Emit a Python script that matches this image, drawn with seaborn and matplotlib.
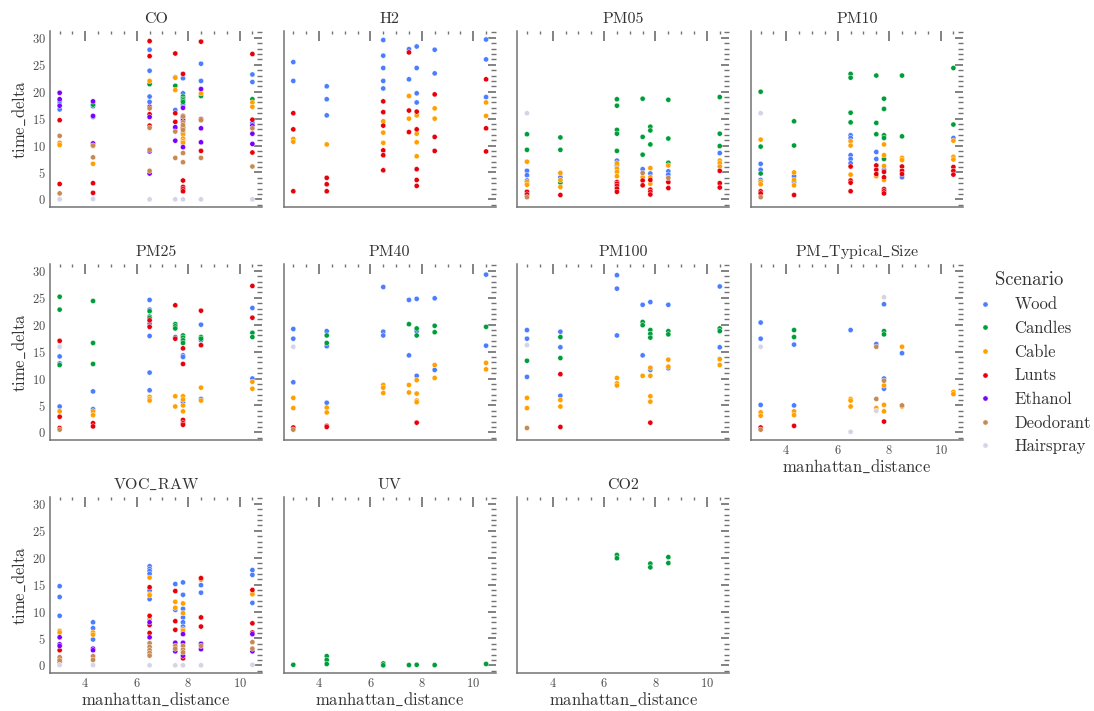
import matplotlib
matplotlib.use("Agg")
import matplotlib.pyplot as plt
import seaborn as sns
import pandas as pd

# time_delta per (manhattan_distance, time_delta) point, grouped by sensor and scenario
CO = {
    "Wood": [(3, 18.0), (3, 16.7), (3, 18.3), (4.3, 17.3), (4.3, 15.3), (6.5, 27.8), (6.5, 23.9), (6.5, 21.6),
             (6.5, 19.1), (6.5, 18.1), (7.5, 22.7), (7.5, 16.6), (7.5, 13.2), (7.8, 22.5), (7.8, 19.7), (7.8, 17.6),
             (7.8, 12.4), (8.5, 25.2), (8.5, 22.0), (10.5, 23.2), (10.5, 21.8), (10.5, 14.2)],
    "Candles": [(4.3, 17.6), (6.5, 21.4), (7.5, 21.1), (7.8, 19.1), (7.8, 18.7), (7.8, 18.4), (7.8, 18.1),
                (8.5, 19.2), (10.5, 18.6)],
    "Cable": [(3, 10.5), (3, 10.1), (4.3, 9.9), (4.3, 6.6), (6.5, 22.0), (7.5, 22.6), (7.5, 20.3), (7.8, 12.1),
              (7.8, 11.3), (7.8, 10.8), (7.8, 10.5), (8.5, 19.7), (10.5, 18.0), (10.5, 17.2)],
    "Lunts": [(3, 14.7), (3, 2.85), (4.3, 3.0), (4.3, 1.2), (6.5, 29.4), (6.5, 26.6), (6.5, 15.8), (6.5, 13.7),
              (7.5, 27.1), (7.5, 16.0), (7.5, 14.4), (7.8, 23.3), (7.8, 15.5), (7.8, 13.3), (7.8, 3.5), (7.8, 2.3),
              (7.8, 1.9), (7.8, 1.5), (8.5, 29.3), (8.5, 14.9), (8.5, 9.0), (10.5, 27.0), (10.5, 14.8), (10.5, 8.7)],
    "Ethanol": [(3, 19.8), (3, 18.6), (3, 17.4), (4.3, 18.2), (4.3, 15.5), (4.3, 10.4), (6.5, 17.2), (6.5, 15.3),
                (6.5, 8.9), (6.5, 4.8), (7.5, 13.4), (7.5, 10.9), (7.8, 17.0), (7.8, 15.2), (7.8, 14.7), (7.8, 9.7),
                (8.5, 20.5), (8.5, 13.2), (8.5, 10.6), (10.5, 13.7), (10.5, 12.2), (10.5, 10.3)],
    "Deodorant": [(3, 11.8), (3, 1.1), (4.3, 10.0), (4.3, 7.8), (6.5, 16.9), (6.5, 13.3), (6.5, 9.2), (6.5, 5.3),
                  (7.5, 12.6), (7.5, 7.7), (7.8, 15.4), (7.8, 14.3), (7.8, 13.8), (7.8, 12.9), (7.8, 8.6),
                  (7.8, 6.9), (8.5, 14.7), (8.5, 7.7), (10.5, 13.2), (10.5, 6.1)],
    "Hairspray": [(3, 0), (4.3, 0.05), (6.5, 0), (7.5, 0), (7.8, 0), (8.5, 0), (10.5, 0)],
}

H2 = {
    "Wood": [(3, 25.5), (3, 22.0), (4.3, 21.0), (4.3, 18.6), (4.3, 15.6), (6.5, 29.6), (6.5, 26.7), (6.5, 24.4),
             (6.5, 22.0), (6.5, 20.6), (7.5, 27.9), (7.5, 22.3), (7.8, 28.4), (7.8, 24.4), (7.8, 19.7), (7.8, 18.0),
             (8.5, 27.8), (8.5, 23.4), (10.5, 29.7), (10.5, 26.0), (10.5, 19.0)],
    "Cable": [(3, 11.2), (3, 10.7), (4.3, 10.2), (6.5, 14.5), (6.5, 12.4), (6.5, 10.5), (7.5, 19.2), (7.5, 15.0),
              (7.8, 15.6), (7.8, 12.2), (7.8, 10.6), (7.8, 8.0), (8.5, 16.9), (8.5, 15.0), (10.5, 18.0),
              (10.5, 15.5)],
    "Lunts": [(3, 16.0), (3, 13.0), (3, 1.5), (4.3, 4.0), (4.3, 2.8), (4.3, 1.5), (6.5, 18.2), (6.5, 16.2),
              (6.5, 13.7), (6.5, 9.1), (6.5, 8.2), (6.5, 5.4), (7.5, 27.3), (7.5, 16.5), (7.5, 12.5), (7.8, 16.3),
              (7.8, 13.0), (7.8, 5.6), (7.8, 3.6), (7.8, 2.5), (8.5, 19.5), (8.5, 11.6), (8.5, 9.0), (10.5, 22.3),
              (10.5, 13.2), (10.5, 8.9)],
}

PM05 = {
    "Wood": [(3, 5.3), (3, 4.5), (3, 3.5), (4.3, 4.1), (6.5, 7.2), (6.5, 6.3), (7.5, 5.6), (7.8, 4.8), (8.5, 5.2),
             (8.5, 4.6), (10.5, 8.6)],
    "Candles": [(3, 12.1), (3, 9.2), (4.3, 11.5), (4.3, 9.2), (4.3, 3.1), (6.5, 18.6), (6.5, 17.4), (6.5, 12.9),
                (6.5, 12.2), (6.5, 9.0), (7.5, 18.7), (7.5, 11.6), (7.5, 8.3), (7.8, 13.5), (7.8, 12.8),
                (7.8, 10.2), (8.5, 18.5), (8.5, 11.3), (8.5, 6.8), (10.5, 19.0), (10.5, 12.2), (10.5, 9.9)],
    "Cable": [(3, 7.0), (3, 3.2), (3, 2.7), (4.3, 4.9), (4.3, 3.6), (4.3, 2.3), (6.5, 6.7), (6.5, 5.7), (6.5, 5.1),
              (6.5, 4.3), (7.5, 4.1), (7.8, 5.8), (7.8, 4.1), (7.8, 2.9), (8.5, 6.3), (10.5, 7.2), (10.5, 6.7),
              (10.5, 6.1)],
    "Lunts": [(3, 1.4), (3, 0.9), (4.3, 0.8), (6.5, 3.2), (6.5, 2.9), (6.5, 2.5), (6.5, 2.0), (6.5, 1.4),
              (7.5, 3.5), (7.5, 2.6), (7.8, 3.6), (7.8, 1.8), (7.8, 1.4), (7.8, 0.9), (8.5, 3.2), (8.5, 2.1),
              (10.5, 5.3), (10.5, 3.0), (10.5, 2.2)],
    "Deodorant": [(3, 0.4), (7.5, 4.9), (8.5, 4.0)],
    "Hairspray": [(3, 16.0)],
}

PM10 = {
    "Wood": [(3, 6.6), (3, 5.5), (3, 3.6), (4.3, 4.3), (4.3, 3.2), (6.5, 11.9), (6.5, 11.4), (6.5, 8.2),
             (6.5, 7.5), (6.5, 6.7), (7.5, 8.8), (7.5, 7.5), (7.8, 5.5), (8.5, 4.1), (10.5, 11.4)],
    "Candles": [(3, 20.0), (3, 9.8), (3, 4.8), (4.3, 14.5), (4.3, 10.0), (6.5, 23.3), (6.5, 22.6), (6.5, 16.1),
                (6.5, 14.3), (7.5, 23.0), (7.5, 14.2), (7.5, 12.1), (7.8, 18.7), (7.8, 16.8), (7.8, 11.9),
                (7.8, 11.4), (7.8, 7.5), (8.5, 23.0), (8.5, 11.7), (10.5, 24.4), (10.5, 13.9)],
    "Cable": [(3, 11.1), (3, 3.3), (3, 2.8), (4.3, 5.0), (4.3, 3.6), (4.3, 2.6), (6.5, 10.8), (6.5, 10.0),
              (6.5, 4.6), (7.5, 4.3), (7.8, 10.2), (7.8, 8.2), (7.8, 6.2), (7.8, 3.6), (8.5, 7.7), (8.5, 7.3),
              (10.5, 10.9), (10.5, 7.9), (10.5, 7.4)],
    "Lunts": [(3, 1.5), (3, 1.1), (4.3, 0.8), (6.5, 6.1), (6.5, 3.5), (6.5, 3.1), (6.5, 1.5), (7.5, 6.3),
              (7.5, 5.5), (7.5, 4.7), (7.8, 5.1), (7.8, 4.1), (7.8, 1.9), (7.8, 1.5), (7.8, 1.1), (8.5, 6.1),
              (8.5, 5.3), (8.5, 4.7), (10.5, 6.0), (10.5, 5.3), (10.5, 4.6)],
    "Deodorant": [(3, 0.4)],
    "Hairspray": [(3, 16.0)],
}

PM25 = {
    "Wood": [(3, 14.1), (3, 12.8), (3, 4.8), (4.3, 7.6), (4.3, 4.3), (6.5, 24.6), (6.5, 22.8), (6.5, 20.2),
             (6.5, 17.9), (6.5, 11.1), (6.5, 7.8), (7.5, 17.7), (7.8, 14.3), (7.8, 14.0), (7.8, 5.6), (8.5, 20.0),
             (8.5, 17.1), (8.5, 6.2), (10.5, 23.1), (10.5, 10.0)],
    "Candles": [(3, 25.2), (3, 22.8), (3, 12.5), (4.3, 24.4), (4.3, 16.6), (4.3, 12.7), (6.5, 22.5), (6.5, 21.5),
                (6.5, 21.2), (7.5, 20.1), (7.5, 19.7), (7.5, 19.3), (7.8, 18.0), (7.8, 17.6), (7.8, 17.1),
                (7.8, 16.6), (8.5, 17.7), (8.5, 17.4), (10.5, 18.5), (10.5, 17.7)],
    "Cable": [(3, 3.9), (4.3, 3.9), (4.3, 3.2), (6.5, 6.6), (6.5, 6.2), (6.5, 5.9), (7.5, 6.7), (7.5, 4.8),
              (7.8, 6.7), (7.8, 6.1), (7.8, 5.0), (7.8, 3.9), (8.5, 8.3), (8.5, 5.9), (10.5, 9.4), (10.5, 8.1)],
    "Lunts": [(3, 17.0), (3, 2.9), (3, 0.8), (4.3, 1.7), (4.3, 1.1), (6.5, 20.8), (6.5, 19.6), (7.5, 23.6),
              (7.5, 17.4), (7.8, 15.6), (7.8, 12.7), (7.8, 2.3), (7.8, 1.7), (7.8, 1.4), (8.5, 22.6), (8.5, 16.2),
              (10.5, 27.2), (10.5, 21.3)],
    "Deodorant": [(3, 0.5)],
    "Hairspray": [(3, 15.9)],
}

PM40 = {
    "Wood": [(3, 19.2), (3, 17.4), (3, 9.3), (4.3, 18.8), (4.3, 16.0), (4.3, 5.5), (6.5, 27.0), (6.5, 18.7),
             (6.5, 18.0), (7.5, 24.6), (7.5, 14.3), (7.8, 24.8), (7.8, 18.8), (7.8, 10.5), (8.5, 24.9),
             (8.5, 11.6), (10.5, 29.3), (10.5, 16.1)],
    "Candles": [(4.3, 18.0), (4.3, 16.6), (7.5, 20.1), (7.8, 19.3), (7.8, 18.0), (8.5, 19.8), (8.5, 18.6),
                (10.5, 19.6)],
    "Cable": [(3, 6.4), (3, 4.5), (4.3, 4.6), (4.3, 3.7), (6.5, 8.8), (6.5, 8.3), (6.5, 7.3), (7.5, 8.8),
              (7.5, 7.4), (7.8, 9.7), (7.8, 7.2), (7.8, 5.9), (7.8, 5.6), (8.5, 12.5), (8.5, 10.1), (10.5, 12.9),
              (10.5, 11.7)],
    "Lunts": [(3, 0.9), (4.3, 1.2), (4.3, 1.0), (7.8, 1.8)],
    "Deodorant": [(3, 0.5)],
    "Hairspray": [(3, 15.9)],
}

PM100 = {
    "Wood": [(3, 19.0), (3, 17.4), (3, 10.3), (4.3, 18.7), (4.3, 15.8), (4.3, 6.8), (6.5, 29.2), (6.5, 26.7),
             (6.5, 18.0), (7.5, 23.7), (7.5, 14.3), (7.8, 24.2), (7.8, 11.6), (8.5, 23.7), (8.5, 11.9),
             (10.5, 27.1), (10.5, 15.8)],
    "Candles": [(3, 13.3), (4.3, 17.7), (4.3, 13.8), (7.5, 20.5), (7.5, 19.9), (7.8, 19.0), (7.8, 18.3),
                (7.8, 17.6), (8.5, 18.8), (8.5, 18.2), (10.5, 19.3), (10.5, 18.8)],
    "Cable": [(3, 6.4), (3, 4.5), (4.3, 6.0), (4.3, 4.8), (6.5, 10.1), (6.5, 9.1), (6.5, 8.7), (7.5, 10.5),
              (7.8, 12.0), (7.8, 10.5), (7.8, 6.7), (7.8, 5.7), (8.5, 13.5), (8.5, 12.2), (10.5, 13.6),
              (10.5, 12.5)],
    "Lunts": [(4.3, 10.8), (4.3, 1.0), (7.8, 1.8)],
    "Deodorant": [(3, 0.8)],
    "Hairspray": [(3, 16.2)],
}

PM_TYPICAL_SIZE = {
    "Wood": [(3, 20.4), (3, 17.4), (3, 5.1), (4.3, 16.3), (4.3, 5.0), (6.5, 19.0), (7.5, 16.4), (7.8, 23.8),
             (7.8, 10.0), (7.8, 8.1), (8.5, 14.7)],
    "Candles": [(4.3, 19.0), (4.3, 17.7), (7.8, 18.8), (7.8, 18.2)],
    "Cable": [(3, 3.7), (3, 3.1), (4.3, 3.9), (4.3, 3.2), (6.5, 6.2), (6.5, 5.9), (6.5, 4.8), (7.5, 4.5),
              (7.8, 8.7), (7.8, 5.1), (7.8, 3.9), (8.5, 15.9), (8.5, 4.8), (10.5, 7.5), (10.5, 7.1)],
    "Lunts": [(3, 0.9), (4.3, 1.2), (7.8, 2.0)],
    "Deodorant": [(3, 0.5), (7.5, 15.9), (7.5, 6.2), (7.8, 9.6), (8.5, 5.0)],
    "Hairspray": [(3, 15.9), (6.5, 0.1), (7.5, 4.0), (7.8, 25.1)],
}

VOC_RAW = {
    "Wood": [(3, 14.7), (3, 12.7), (3, 9.2), (4.3, 8.0), (4.3, 6.9), (4.3, 4.8), (6.5, 18.4), (6.5, 17.9),
             (6.5, 17.5), (6.5, 17.0), (6.5, 13.9), (6.5, 12.3), (7.5, 15.1), (7.5, 10.3), (7.8, 15.4), (7.8, 13.1),
             (7.8, 10.5), (7.8, 8.9), (7.8, 8.0), (7.8, 7.2), (8.5, 14.9), (8.5, 13.5), (10.5, 17.7), (10.5, 16.8),
             (10.5, 11.6)],
    "Cable": [(3, 6.4), (3, 6.1), (4.3, 6.1), (4.3, 5.7), (6.5, 16.3), (6.5, 13.2), (6.5, 13.0), (6.5, 8.6),
              (7.5, 11.8), (7.5, 10.7), (7.8, 11.5), (7.8, 9.7), (7.8, 6.7), (7.8, 6.4), (8.5, 15.9), (10.5, 13.5),
              (10.5, 13.2)],
    "Lunts": [(3, 2.8), (3, 1.2), (3, 0.6), (6.5, 14.5), (6.5, 9.2), (6.5, 7.5), (6.5, 6.0), (7.5, 13.8),
              (7.5, 8.2), (7.5, 6.6), (7.8, 1.3), (8.5, 16.2), (8.5, 8.9), (8.5, 7.2), (10.5, 14.0), (10.5, 7.8),
              (10.5, 6.1)],
    "Ethanol": [(3, 5.2), (3, 3.9), (3, 3.6), (4.3, 3.1), (4.3, 2.8), (6.5, 8.0), (6.5, 5.2), (7.5, 4.2),
                (7.5, 2.6), (7.8, 5.8), (7.8, 4.2), (7.8, 1.8), (8.5, 4.0), (8.5, 3.0), (10.5, 5.8), (10.5, 2.6)],
    "Deodorant": [(3, 1.5), (3, 0.9), (4.3, 1.7), (4.3, 1.0), (6.5, 4.1), (6.5, 3.4), (6.5, 2.8), (6.5, 2.3),
                  (6.5, 1.8), (7.5, 3.6), (7.5, 3.1), (7.8, 3.6), (7.8, 2.9), (7.8, 2.4), (8.5, 3.6), (10.5, 4.3),
                  (10.5, 3.1)],
    "Hairspray": [(3, 0.05), (4.3, 0.05), (6.5, 0), (7.5, 0), (7.8, 0), (8.5, 0), (10.5, 0.1)],
}

UV = {
    "Candles": [(3, 0.1), (4.3, 1.7), (4.3, 1.0), (4.3, 0.25), (6.5, 0.35), (6.5, 0.0), (7.5, 0.05), (7.8, 0.1),
                (8.5, 0.05), (10.5, 0.25)],
}

CO2 = {
    "Candles": [(6.5, 20.5), (6.5, 19.9), (7.8, 18.9), (7.8, 18.2), (8.5, 20.1), (8.5, 19.0)],
}

sensors = ["CO", "H2", "PM05", "PM10", "PM25", "PM40", "PM100", "PM_Typical_Size", "VOC_RAW", "UV", "CO2"]
sensor_data = [CO, H2, PM05, PM10, PM25, PM40, PM100, PM_TYPICAL_SIZE, VOC_RAW, UV, CO2]

scenarios = ["Wood", "Candles", "Cable", "Lunts", "Ethanol", "Deodorant", "Hairspray"]
colors = ["#4a7dff", "#009e3a", "#ffa000", "#e8000b", "#7a00ff", "#c68a52", "#d4d4e6"]

rows = []
for sensor, groups in zip(sensors, sensor_data):
    for scenario, points in groups.items():
        for dist, td in points:
            rows.append({"sensor": sensor, "Scenario": scenario,
                         "manhattan_distance": dist, "time_delta": td})
df = pd.DataFrame(rows)


def tex(s):
    # cmr10 has a dot accent where "_" is, so draw underscores through mathtext
    return s.replace("_", r"$\_$")


sns.set_theme(style="white")
plt.rcParams.update({
    "font.family": "serif",
    "font.serif": ["cmr10", "DejaVu Serif"],
    "mathtext.fontset": "cm",
    "axes.formatter.use_mathtext": True,
    "text.color": ".2",
    "axes.labelcolor": ".2",
    "axes.edgecolor": ".45",
    "axes.linewidth": 1.1,
    "axes.labelpad": 3,
    "xtick.top": True,
    "ytick.right": True,
    "xtick.bottom": False,
    "ytick.left": False,
    "xtick.direction": "in",
    "ytick.direction": "in",
    "xtick.minor.visible": True,
    "ytick.minor.visible": True,
    "xtick.major.size": 7,
    "xtick.minor.size": 2.5,
    "ytick.major.size": 6,
    "ytick.minor.size": 3.5,
    "xtick.major.pad": 2.5,
    "ytick.major.pad": 3,
    "xtick.color": ".45",
    "ytick.color": ".45",
    "xtick.labelcolor": ".3",
    "ytick.labelcolor": ".3",
    "xtick.labelsize": 9,
    "ytick.labelsize": 9,
    "axes.labelsize": 12,
    "axes.titlesize": 11.5,
})

g = sns.relplot(
    data=df, x="manhattan_distance", y="time_delta",
    hue="Scenario", hue_order=scenarios, palette=colors,
    col="sensor", col_order=sensors, col_wrap=4,
    height=1.76, aspect=1.2, s=14, edgecolor="white", linewidth=0.3,
)
for ax, name in zip(g.axes.flat, sensors):
    ax.set_title(tex(name))
    if ax.get_xlabel():
        ax.set_xlabel(tex("manhattan_distance"), labelpad=1)
    if ax.get_ylabel():
        ax.set_ylabel(tex("time_delta"))

g.figure.set_size_inches(10.94, 7.11)
g.figure.subplots_adjust(left=0.0457, right=0.8803, top=0.9557, bottom=0.053,
                         wspace=0.102, hspace=0.325)
sns.move_legend(g, "center left", bbox_to_anchor=(0.871, 0.49), frameon=False,
                fontsize=12, title_fontsize=13.5)

g.figure.savefig("out.png", dpi=100)
